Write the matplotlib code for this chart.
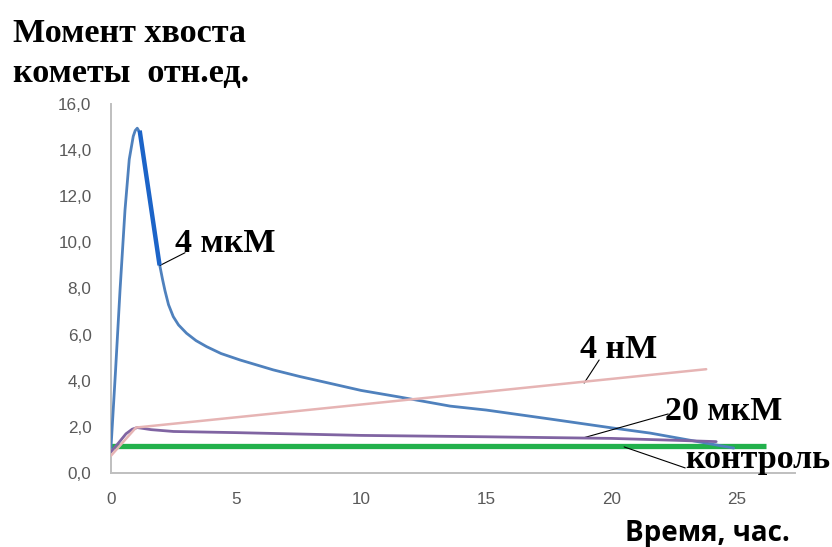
import matplotlib
matplotlib.use("Agg")
import matplotlib.pyplot as plt

# Time, hours, and tail moment (relative units) for each treatment
t_4uM = [0.0, 0.18, 0.36, 0.56, 0.73, 0.89, 0.97, 1.05, 1.16]
m_4uM = [1.1, 4.4, 7.9, 11.4, 13.6, 14.6, 14.85, 14.95, 14.75]
t_4uM_drop = [1.16, 1.93]
m_4uM_drop = [14.75, 9.1]
t_4uM_tail = [1.93, 1.96, 2.06, 2.16, 2.3, 2.49, 2.7, 3.02, 3.4, 3.82, 4.4,
              5.16, 6.49, 7.56, 8.5, 10.0, 11.56, 13.56, 15.0, 17.56, 20.0,
              21.56, 22.9, 24.9]
m_4uM_tail = [9.1, 8.95, 8.4, 7.9, 7.3, 6.78, 6.42, 6.06, 5.74, 5.48, 5.18,
              4.9, 4.47, 4.18, 3.95, 3.58, 3.29, 2.9, 2.73, 2.34, 1.96,
              1.73, 1.47, 1.08]

t_4nM = [0.0, 1.0, 23.8]
m_4nM = [0.75, 1.97, 4.5]

t_20uM = [0.0, 0.3, 0.6, 0.85, 1.05, 1.3, 1.6, 2.5, 5.0, 10.0, 15.0, 20.0, 22.5, 24.2]
m_20uM = [0.92, 1.3, 1.7, 1.9, 1.97, 1.93, 1.88, 1.8, 1.75, 1.63, 1.57, 1.5, 1.42, 1.36]

t_ctrl = [0.0, 26.2]
m_ctrl = [1.18, 1.18]

x_ticks = [0, 5, 10, 15, 20, 25]
y_ticks = [0, 2, 4, 6, 8, 10, 12, 14, 16]
y_tick_labels = ["0,0", "2,0", "4,0", "6,0", "8,0", "10,0", "12,0", "14,0", "16,0"]

fig = plt.figure(figsize=(8.32, 5.47), dpi=100)
ax = fig.add_axes([0.1334, 0.1353, 0.8221, 0.6746])

blue = "#4f81bd"
line_kw = dict(solid_joinstyle="round", solid_capstyle="round")
ax.plot(t_ctrl, m_ctrl, color="#22b14c", lw=3.8, solid_capstyle="butt", zorder=2)
ax.plot(t_4uM, m_4uM, color=blue, lw=2.0, zorder=3, **line_kw)
ax.plot(t_4uM_tail, m_4uM_tail, color=blue, lw=2.0, zorder=3, **line_kw)
ax.plot(t_4uM_drop, m_4uM_drop, color="#1c64c8", lw=3.2, zorder=4)
ax.plot(t_20uM, m_20uM, color="#8064a2", lw=2.0, zorder=4, **line_kw)
ax.plot(t_4nM, m_4nM, color="#e6b4b4", lw=1.8, zorder=5, **line_kw)

ax.set_xlim(0, 27.35)
ax.set_ylim(0, 16)
ax.set_xticks(x_ticks)
ax.set_xticklabels([str(v) for v in x_ticks])
ax.set_yticks(y_ticks)
ax.set_yticklabels(y_tick_labels)
ax.tick_params(length=0, labelsize=12.3, labelcolor="#595959")
ax.tick_params(axis="y", pad=14)
ax.tick_params(axis="x", pad=14)
for lab in ax.get_xticklabels() + ax.get_yticklabels():
    lab.set_fontfamily("Liberation Sans")
for s in ("top", "right"):
    ax.spines[s].set_visible(False)
for s in ("left", "bottom"):
    ax.spines[s].set_color("#bfbfbf")
    ax.spines[s].set_linewidth(1.4)

serif_bold = dict(family="Liberation Serif", weight="bold", color="black")
leader = dict(arrowstyle="-", color="black", lw=0.8, shrinkA=0, shrinkB=0)

# Series labels and their leader lines
labels = [
    ("4 мкМ", (2.56, 9.58), (2.96, 9.55), (1.96, 9.0)),
    ("4 нМ", (18.76, 5.0), (19.52, 4.9), (18.92, 3.9)),
    ("20 мкМ", (22.16, 2.3), (22.28, 2.56), (18.88, 1.52)),
    ("контроль", (22.96, 0.22), (22.96, 0.22), (20.52, 1.13)),
]
for text, pos, start, end in labels:
    ax.text(pos[0], pos[1], text, fontsize=24.5, ha="left", va="baseline",
            clip_on=False, zorder=6, **serif_bold)
    ax.annotate("", xy=end, xytext=start, arrowprops=leader,
                annotation_clip=False)

fig.text(13 / 832, 1 - 42 / 547, "Момент хвоста", fontsize=24.6,
         ha="left", va="baseline", **serif_bold)
fig.text(13 / 832, 1 - 82 / 547, "кометы  отн.ед.", fontsize=24.6,
         ha="left", va="baseline", **serif_bold)
fig.text(790 / 832, 1 - 541 / 547, "Время, час.", fontsize=20,
         ha="right", va="baseline", family="Open Sans", weight="bold",
         color="black")

fig.savefig("out.png", dpi=100)
